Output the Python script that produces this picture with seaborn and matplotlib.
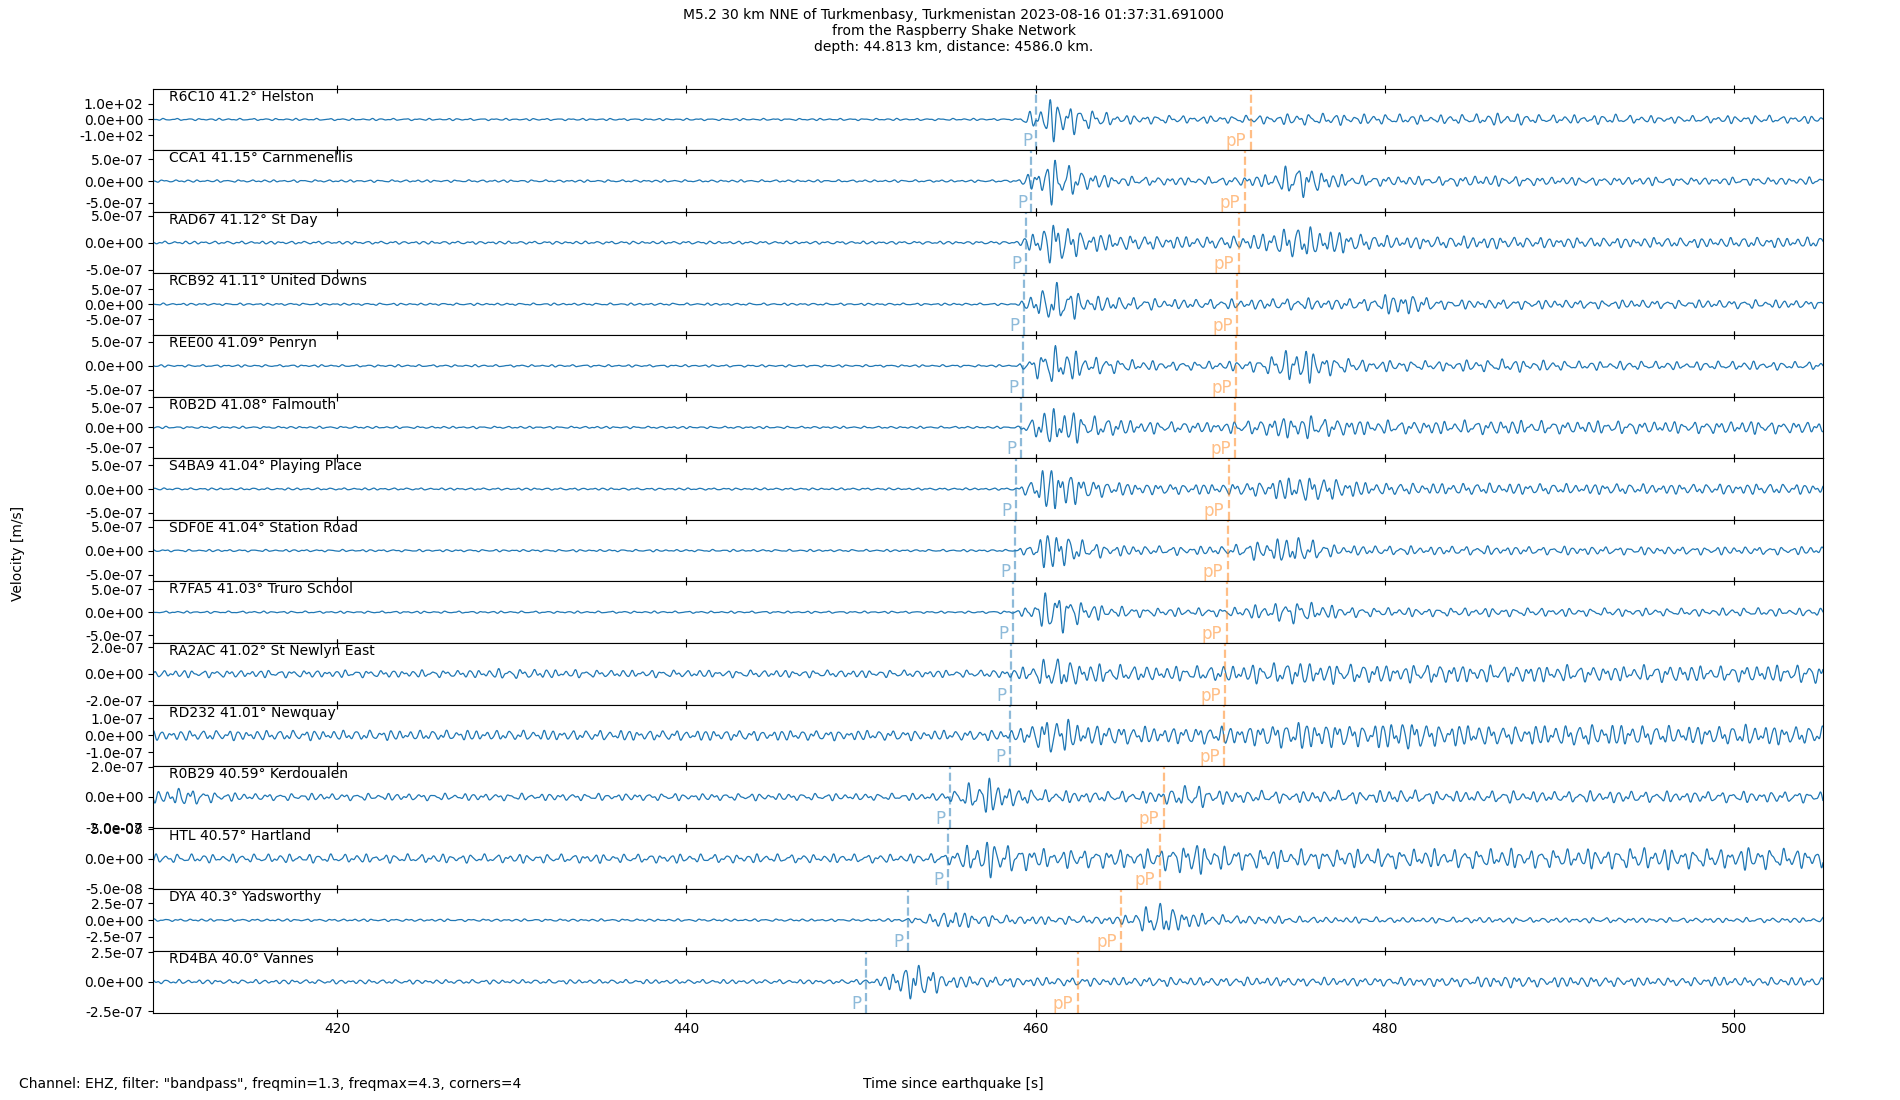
import numpy as np
import pandas as pd
import matplotlib

matplotlib.use("Agg")
import matplotlib.pyplot as plt  # noqa: E402
import seaborn as sns  # noqa: E402
from matplotlib.ticker import FormatStrFormatter  # noqa: E402

# ---- station metadata ----
stations = ["R6C10", "CCA1", "RAD67", "RCB92", "REE00", "R0B2D", "S4BA9", "SDF0E",
            "R7FA5", "RA2AC", "RD232", "R0B29", "HTL", "DYA", "RD4BA"]
distances = ["41.2", "41.15", "41.12", "41.11", "41.09", "41.08", "41.04", "41.04",
             "41.03", "41.02", "41.01", "40.59", "40.57", "40.3", "40.0"]
places = ["Helston", "Carnmenellis", "St Day", "United Downs", "Penryn", "Falmouth",
          "Playing Place", "Station Road", "Truro School", "St Newlyn East", "Newquay",
          "Kerdoualen", "Hartland", "Yadsworthy", "Vannes"]
p_times = [460.04, 459.76, 459.42, 459.35, 459.28, 459.14, 458.86, 458.79,
           458.72, 458.58, 458.52, 455.11, 454.98, 452.69, 450.26]
pp_times = [472.32, 471.98, 471.63, 471.56, 471.49, 471.42, 471.07, 471.01,
            470.94, 470.87, 470.80, 467.33, 467.12, 464.90, 462.40]
tick_vals = [1e2, 5e-7, 5e-7, 5e-7, 5e-7, 5e-7, 5e-7, 5e-7,
             5e-7, 2e-7, 1e-7, 2e-7, 5e-8, 2.5e-7, 2.5e-7]
y_half = [196, 7.1e-7, 5.7e-7, 1.02e-6, 6.4e-7, 7.7e-7, 6.5e-7, 6.4e-7,
          6.7e-7, 2.3e-7, 1.8e-7, 2.04e-7, 5.2e-8, 4.6e-7, 2.6e-7]
# envelope unit of each trace (first trace is in counts)
env_unit = [1.0] + [1e-7] * 14

# ---- amplitude envelopes (peak values), every 2 s from 409 s to 505 s ----
env_t = np.arange(409, 506, 2)
env_r6c10 = [7] * 25 + [6, 150, 70, 30, 30, 25, 25, 30, 40, 40, 35, 35, 30, 35, 45, 30,
                        30, 35, 25, 25, 25, 30, 25, 25]
env_cca1 = [0.3] * 26 + [6.0, 2.2, 1.2, 1.1, 1.0, 1.0, 1.5, 4.5, 1.8, 1.3, 1.2, 1.1, 1.4,
                         1.3, 1.1, 1.0, 1.0, 1.1, 1.0, 0.9, 1.0, 0.9, 1.0]
env_rad67 = [0.3] * 26 + [4.8, 2.0, 1.6, 1.4, 1.2, 1.3, 1.8, 3.6, 2.5, 1.6, 1.3, 1.2, 1.4,
                          1.2, 1.1, 1.1, 1.0, 1.1, 1.0, 1.0, 1.1, 1.0, 1.2]
env_rcb92 = [0.4] * 26 + [8.0, 3.2, 2.5, 2.0, 1.8, 1.8, 2.0, 2.2, 2.0, 2.2, 4.5, 1.8, 1.6,
                          1.8, 1.6, 1.6, 1.5, 1.6, 1.5, 1.5, 1.6, 1.5, 1.5]
env_ree00 = [0.25] * 26 + [4.8, 2.2, 1.5, 1.0, 1.0, 1.0, 1.5, 4.5, 2.0, 1.3, 1.2, 1.1, 1.3,
                           1.5, 1.2, 1.0, 1.0, 1.0, 0.9, 1.0, 1.0, 0.9, 0.9]
env_r0b2d = [0.3] * 26 + [6.0, 3.2, 2.2, 1.6, 1.5, 1.5, 2.2, 3.5, 2.5, 2.0, 1.8, 1.8, 1.9,
                          2.0, 1.8, 1.7, 1.8, 1.7, 1.6, 1.7, 1.8, 1.6, 1.7]
env_s4ba9 = [0.25] * 25 + [0.3, 6.0, 2.2, 1.5, 1.3, 1.2, 1.3, 1.8, 3.2, 2.6, 1.5, 1.4, 1.3,
                           1.4, 1.3, 1.3, 1.2, 1.3, 1.2, 1.2, 1.2, 1.3, 1.2, 1.2]
env_sdf0e = [0.25] * 26 + [5.0, 1.8, 1.2, 1.0, 1.0, 1.0, 2.4, 3.2, 1.3, 1.1, 1.0, 1.0, 1.0,
                           1.0, 0.9, 1.0, 0.9, 0.9, 0.9, 0.9, 0.9, 0.9, 0.9]
env_r7fa5 = [0.25] * 25 + [0.4, 5.6, 2.0, 1.3, 1.0, 1.0, 1.0, 1.8, 2.8, 1.5, 1.1, 1.0, 1.0,
                           1.0, 1.0, 1.0, 0.9, 1.0, 0.9, 0.9, 0.9, 1.0, 0.9, 0.9]
env_ra2ac = [0.3] * 10 + [0.4, 0.4, 0.35] + [0.3] * 12 + [
    0.4, 1.4, 0.8, 0.7, 0.6, 0.6, 0.7, 0.8, 1.0, 0.8, 0.8, 0.7, 0.8, 0.7, 0.7, 0.7, 0.7,
    0.6, 0.7, 0.7, 0.6, 0.7, 0.7, 0.8]
env_rd232 = [0.33] * 25 + [0.4, 1.3, 0.7, 0.6, 0.55, 0.55, 0.6, 0.7, 0.9, 0.8, 0.7, 1.0,
                           0.7, 0.7, 0.6, 0.65, 0.7, 0.7, 0.65, 0.6, 0.6, 0.7, 0.6, 0.6]
env_r0b29 = [0.3, 0.7, 0.35] + [0.25] * 20 + [
    0.3, 1.4, 0.6, 0.45, 0.4, 0.4, 0.45, 0.9, 0.45, 0.45, 0.4, 0.45, 0.45, 0.5, 0.45, 0.4,
    0.45, 0.4, 0.4, 0.45, 0.4, 0.4, 0.4, 0.4, 0.4, 0.4]
env_htl = [0.08] * 23 + [0.1, 0.36, 0.22, 0.17, 0.17, 0.17, 0.19, 0.3, 0.21, 0.18, 0.17,
                         0.17, 0.17, 0.18, 0.17, 0.18, 0.18, 0.17, 0.18, 0.18, 0.21, 0.18,
                         0.18, 0.21, 0.18, 0.18]
env_dya = [0.2] * 22 + [0.4, 1.6, 1.0, 0.7, 0.7, 0.65, 0.7, 3.0, 1.2, 0.8, 0.7, 0.6, 0.5, 0.5,
                        0.45, 0.45, 0.5, 0.45, 0.4, 0.4, 0.45, 0.4, 0.4, 0.4, 0.4, 0.4, 0.4]
env_rd4ba = [0.2] * 21 + [0.3, 1.9, 0.6, 0.5, 0.45, 0.4, 0.4, 0.4, 0.45, 0.4, 0.4, 0.45, 0.4,
                          0.4, 0.4, 0.4, 0.45, 0.45, 0.6, 0.45, 0.5, 0.45, 0.4, 0.4, 0.45,
                          0.4, 0.4, 0.4]
envelopes = [env_r6c10, env_cca1, env_rad67, env_rcb92, env_ree00, env_r0b2d, env_s4ba9,
             env_sdf0e, env_r7fa5, env_ra2ac, env_rd232, env_r0b29, env_htl, env_dya,
             env_rd4ba]

x_min, x_max = 409.45, 505.1


def build_traces():
    t = np.arange(x_min, x_max, 0.02)
    rows = []
    for k, (sta, env, unit) in enumerate(zip(stations, envelopes, env_unit)):
        amp = np.interp(t, env_t, np.asarray(env, dtype=float)) * unit
        carrier = (np.sin(2 * np.pi * 1.6 * t + 1.4 * np.sin(2 * np.pi * 0.23 * t + k) + 0.9 * k)
                   + 0.55 * np.sin(2 * np.pi * 2.5 * t + 2.1 * k + 1.0)
                   + 0.35 * np.sin(2 * np.pi * 3.4 * t + 1.7 * k + 2.0)) / 1.9
        rows.append(pd.DataFrame({"station": sta, "time": t, "velocity": amp * carrier}))
    return pd.concat(rows, ignore_index=True)


def main():
    df = build_traces()
    plt.rcParams["font.family"] = ["DejaVu Sans"]
    plt.rcParams["font.size"] = 10

    fig, axes = plt.subplots(len(stations), 1, figsize=(19, 11), dpi=100, sharex=True)
    fig.subplots_adjust(left=0.0806, right=0.9595, top=0.9194, bottom=0.0795, hspace=0)

    for i, ax in enumerate(axes):
        sta = stations[i]
        sub = df[df["station"] == sta]
        sns.lineplot(data=sub, x="time", y="velocity", ax=ax, color="C0", lw=0.9,
                     estimator=None, errorbar=None)
        ax.axvline(p_times[i], ls="--", color="C0", alpha=0.5, lw=1.6)
        ax.axvline(pp_times[i], ls="--", color="C1", alpha=0.5, lw=1.6)
        trans = ax.get_xaxis_transform()
        ax.text(p_times[i] - 0.25, 0.0, "P", color="C0", alpha=0.5, fontsize=12,
                ha="right", va="bottom", transform=trans)
        ax.text(pp_times[i] - 0.25, 0.0, "pP", color="C1", alpha=0.5, fontsize=12,
                ha="right", va="bottom", transform=trans)
        ax.text(0.0095, 0.985, f"{sta} {distances[i]}° {places[i]}", transform=ax.transAxes,
                ha="left", va="top", fontsize=10)

        ax.set_xlim(x_min, x_max)
        ax.set_ylim(-y_half[i], y_half[i])
        ax.set_yticks([-tick_vals[i], 0, tick_vals[i]])
        ax.yaxis.set_major_formatter(FormatStrFormatter("%.1e"))
        ax.set_xticks([420, 440, 460, 480, 500])
        ax.tick_params(axis="x", direction="inout", length=6, top=True, bottom=True,
                       labelbottom=(i == len(stations) - 1))
        ax.set_xlabel("")
        ax.set_ylabel("")

    fig.suptitle("M5.2 30 km NNE of Turkmenbasy, Turkmenistan 2023-08-16 01:37:31.691000\n"
                 "from the Raspberry Shake Network\n"
                 "depth: 44.813 km, distance: 4586.0 km.",
                 x=0.502, y=0.993, fontsize=10, va="top")
    fig.text(0.0102, 0.0146, 'Channel: EHZ, filter: "bandpass", freqmin=1.3, freqmax=4.3, corners=4',
             ha="left", va="center", fontsize=10)
    fig.text(0.5016, 0.0146, "Time since earthquake [s]", ha="center", va="center", fontsize=10)
    fig.text(0.0096, 0.497, "Velocity [m/s]", rotation=90, ha="center", va="center", fontsize=10)

    fig.savefig("out.png", dpi=100)
    plt.close(fig)


if __name__ == "__main__":
    main()
